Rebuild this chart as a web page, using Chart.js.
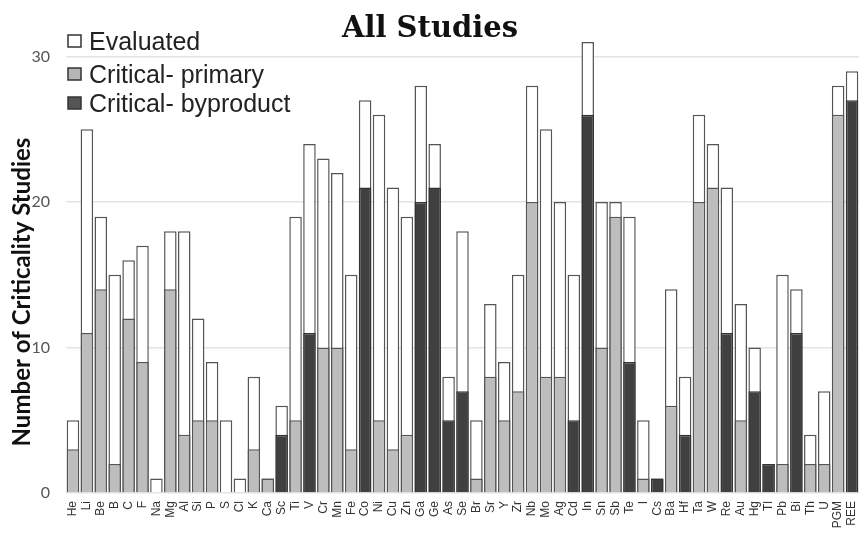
<!DOCTYPE html>
<html><head><meta charset="utf-8">
<script src="https://cdn.jsdelivr.net/npm/chart.js@4"></script>
<style>html,body{margin:0;padding:0;background:#fff;} #wrap{width:861px;height:539px;}</style>
</head><body><div id="wrap"><canvas id="c" width="861" height="539"></canvas></div>
<script>
const elements = ['He','Li','Be','B','C','F','Na','Mg','Al','Si','P','S','Cl','K','Ca','Sc','Ti','V','Cr','Mn','Fe','Co','Ni','Cu','Zn','Ga','Ge','As','Se','Br','Sr','Y','Zr','Nb','Mo','Ag','Cd','In','Sn','Sb','Te','I','Cs','Ba','Hf','Ta','W','Re','Au','Hg','Tl','Pb','Bi','Th','U','PGM','REE'];
const evaluated = [5,25,19,15,16,17,1,18,18,12,9,5,1,8,1,6,19,24,23,22,15,27,26,21,19,28,24,8,18,5,13,9,15,28,25,20,15,31,20,20,19,5,1,14,8,26,24,21,13,10,2,15,14,4,7,28,29];
const criticalPrimary = [3,11,14,2,12,9,null,14,4,5,5,null,null,3,1,null,5,null,10,10,3,null,5,3,4,null,null,null,null,1,8,5,7,20,8,8,null,null,10,19,null,1,null,6,null,20,21,null,5,null,null,2,null,2,2,26,null];
const criticalByproduct = [null,null,null,null,null,null,null,null,null,null,null,null,null,null,null,4,null,11,null,null,null,21,null,null,null,20,21,5,7,null,null,null,null,null,null,null,5,26,null,null,9,null,1,null,4,null,null,11,null,7,2,null,11,null,null,null,27];
const seriesNames = ['Evaluated','Critical- primary','Critical- byproduct'];
const yTicks = [0,10,20,30];
const titleText = 'All Studies';
const yTitle = 'Number of Criticality Studies';

const fills = ['#ffffff','#bdbdbd','#404040'];
const legendFills = ['#ffffff','#b5b5b5','#555555'];

const overlay = {
  id:'overlay',
  afterDraw(chart){
    const ctx = chart.ctx;
    ctx.save();
    ctx.fillStyle = '#111';
    ctx.font = 'bold 29px "DejaVu Serif", serif';
    ctx.textAlign = 'center';
    ctx.textBaseline = 'alphabetic';
    ctx.fillText(titleText, 430, 37);
    // legend
    const cys = [41, 74, 103];
    ctx.font = '25px "Liberation Sans", Arial, sans-serif';
    ctx.textAlign = 'left';
    for (let i = 0; i < 3; i++) {
      ctx.fillStyle = legendFills[i];
      ctx.fillRect(68, cys[i]-6, 13, 12);
      ctx.strokeStyle = '#333';
      ctx.lineWidth = 1.5;
      ctx.strokeRect(68, cys[i]-6, 13, 12);
      ctx.fillStyle = '#222';
      ctx.fillText(seriesNames[i], 89, cys[i] + 9);
    }
    // y title
    ctx.translate(22, 292);
    ctx.rotate(-Math.PI/2);
    ctx.font = 'bold 24px Lato, sans-serif';
    ctx.textAlign = 'center';
    ctx.textBaseline = 'middle';
    ctx.fillStyle = '#111';
    ctx.fillText(yTitle, 0, 0);
    ctx.restore();
  }
};

new Chart(document.getElementById('c'), {
  type: 'bar',
  data: {
    labels: elements,
    datasets: [
      {label: seriesNames[0], data: evaluated, backgroundColor: fills[0], borderColor: '#555', borderWidth: 1.5, order: 2},
      {label: seriesNames[1], data: criticalPrimary, backgroundColor: fills[1], borderColor: '#555', borderWidth: 1.5, order: 1},
      {label: seriesNames[2], data: criticalByproduct, backgroundColor: fills[2], borderColor: '#333', borderWidth: 1.5, order: 1}
    ]
  },
  options: {
    responsive: false,
    animation: false,
    devicePixelRatio: 1,
    datasets: {bar: {grouped: false, categoryPercentage: 0.9, barPercentage: 1}},
    layout: {padding: {top: 13, right: 2, left: 0, bottom: 0}},
    plugins: {legend: {display: false}, title: {display: false}, tooltip: {enabled: false}},
    scales: {
      x: {
        grid: {display: false, drawTicks: false},
        border: {display: false},
        ticks: {autoSkip: false, minRotation: 90, maxRotation: 90, padding: 8,
          font: {family: '"Liberation Sans", Arial, sans-serif', size: 12}, color: '#333'},
        afterFit(s){ s.height = 46; s.paddingLeft = 0; s.paddingRight = 0; s.paddingTop = 0; s.paddingBottom = 0; }
      },
      y: {
        min: 0, max: 33,
        afterBuildTicks(s){ s.ticks = yTicks.map(v => ({value: v})); },
        grid: {color: '#e3e3e3', lineWidth: 1.5, drawTicks: false},
        border: {display: false},
        ticks: {padding: 16, font: {family: 'Lato, sans-serif', size: 16}, color: '#555'},
        afterFit(s){ s.width = 66; s.paddingTop = 0; s.paddingBottom = 0; s.paddingLeft = 0; s.paddingRight = 0; }
      }
    }
  },
  plugins: [overlay]
});
</script>
</body></html>
